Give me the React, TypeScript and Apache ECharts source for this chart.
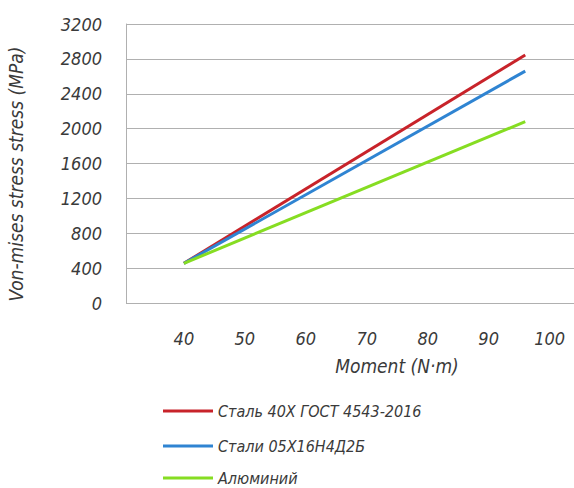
import React, { useEffect, useRef } from "react";
import * as echarts from "echarts";

const moments = [40, 96];
const steel40X = [455, 2845];
const steel05X = [455, 2660];
const aluminium = [455, 2080];
const seriesNames = ["Сталь 40X ГОСТ 4543-2016", "Стали 05X16H4Д2Б", "Алюминий"];
const xTicks = [40, 50, 60, 70, 80, 90, 100];
const yTicks = [0, 400, 800, 1200, 1600, 2000, 2400, 2800, 3200];

const FONT = "'DejaVu Sans Condensed', 'DejaVu Sans', sans-serif";
const TXT = "#3a3a3a";

export default function App() {
  const ref = useRef<HTMLDivElement>(null);
  useEffect(() => {
    if (!ref.current) return;
    const chart = echarts.init(ref.current, undefined, { renderer: "svg" });
    const colors = ["#c8232a", "#2f84d2", "#86dd22"];
    const all = [steel40X, steel05X, aluminium];
    const legendTops = [403, 438, 470];
    chart.setOption({
      animation: false,
      textStyle: { fontFamily: FONT, fontStyle: "italic" },
      grid: { left: 126, right: 0, top: 24, bottom: 185 },
      xAxis: {
        type: "value",
        min: 30.5,
        max: 104,
        axisLine: { show: false },
        axisTick: { show: false },
        splitLine: { show: false },
        axisLabel: {
          customValues: xTicks,
          margin: 26,
          color: TXT,
          fontSize: 18,
          fontStyle: "italic",
          fontFamily: FONT,
        },
      },
      yAxis: {
        type: "value",
        min: 0,
        max: 3200,
        interval: 400,
        axisLine: { show: true, lineStyle: { color: "#b0b0b0", width: 1 } },
        axisTick: { show: false },
        splitLine: { show: true, lineStyle: { color: "#b0b0b0", width: 1 } },
        axisLabel: {
          margin: 24,
          color: TXT,
          fontSize: 18,
          fontStyle: "italic",
          fontFamily: FONT,
          formatter: (v: number) => (yTicks.includes(v) ? String(v) : ""),
        },
      },
      legend: seriesNames.map((name, i) => ({
        orient: "vertical",
        left: 163,
        top: legendTops[i],
        itemWidth: 50,
        itemHeight: 3,
        itemGap: 0,
        padding: 0,
        icon: "rect",
        textStyle: { color: TXT, fontSize: 16, fontStyle: "italic", fontFamily: FONT, padding: [0, 0, 0, 0] },
        data: [name],
      })),
      graphic: [
        {
          type: "text",
          x: 16,
          y: 174,
          rotation: Math.PI / 2,
          style: {
            text: "Von-mises stress stress (MPa)",
            fill: TXT,
            font: `italic 19px ${FONT}`,
            align: "center",
            verticalAlign: "middle",
          },
        },
        {
          type: "text",
          x: 397,
          y: 366,
          style: {
            text: "Moment (N·m)",
            fill: TXT,
            font: `italic 19px ${FONT}`,
            align: "center",
            verticalAlign: "middle",
          },
        },
      ],
      series: seriesNames.map((name, i) => ({
        name,
        type: "line",
        data: moments.map((m, j) => [m, all[i][j]]),
        showSymbol: false,
        symbol: "none",
        lineStyle: { color: colors[i], width: 3 },
        itemStyle: { color: colors[i] },
      })),
    });
    return () => chart.dispose();
  }, []);
  return <div ref={ref} style={{ position: "fixed", left: 0, top: 0, width: 574, height: 488, background: "#fff" }} />;
}
